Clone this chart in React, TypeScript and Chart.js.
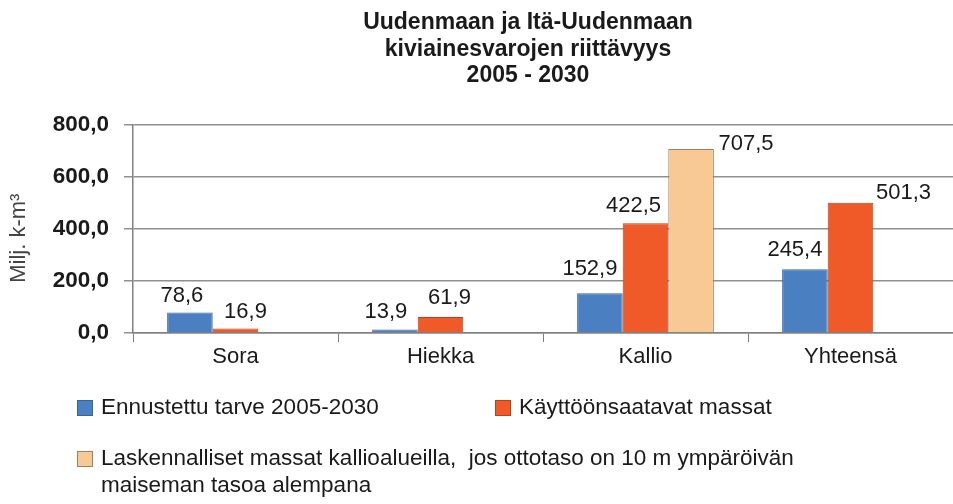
import React, { useEffect, useRef } from "react";
import { Chart, registerables } from "chart.js";

Chart.register(...registerables);

const titleLines = ["Uudenmaan ja Itä-Uudenmaan", "kiviainesvarojen riittävyys", "2005 - 2030"];
const categories = ["Sora", "Hiekka", "Kallio", "Yhteensä"];
const ennustettu = [78.6, 13.9, 152.9, 245.4];
const kayttoonsaatavat = [16.9, 61.9, 422.5, 501.3];
const laskennalliset = [null, null, 707.5, null];
const seriesLabels = [
  "Ennustettu tarve 2005-2030",
  "Käyttöönsaatavat massat",
  "Laskennalliset massat kallioalueilla,  jos ottotaso on 10 m ympäröivän maiseman tasoa alempana",
];
const yTickValues = [0, 200, 400, 600, 800];
const yAxisTitle = "Milj. k-m³   ";

// label offsets (style): [dx, dy] relative to bar top centre
const labelOffsets = [
  [[-8, 17], [-9, 17], [-10, 24], [-10, 19]],
  [[10, 17], [9, 19], [-12, 17], [53, 10]],
  [[0, 10], [0, 10], [55, 5], [0, 10]],
];

const fmt = (v: number) => v.toFixed(1).replace(".", ",");
const FONT = "'Liberation Sans', Arial, sans-serif";

const colors = ["#4a7fc1", "#ef5a28", "#f9c995"];
const borders = ["#35649e", "#b8421c", "#9c8062"];

const titlePlugin = {
  id: "customTitle",
  afterDraw(chart: any) {
    const ctx = chart.ctx;
    ctx.save();
    ctx.font = `bold 23px ${FONT}`;
    ctx.fillStyle = "#1a1a1a";
    ctx.textAlign = "center";
    ctx.textBaseline = "middle";
    titleLines.forEach((t, i) => ctx.fillText(t, 528, 23 + i * 26.5));
    ctx.restore();
  },
};

const labelPlugin = {
  id: "barLabels",
  afterDatasetsDraw(chart: any) {
    const ctx = chart.ctx;
    ctx.save();
    ctx.font = `22px ${FONT}`;
    ctx.fillStyle = "#1a1a1a";
    ctx.textAlign = "center";
    ctx.textBaseline = "middle";
    chart.data.datasets.forEach((ds: any, di: number) => {
      const meta = chart.getDatasetMeta(di);
      meta.data.forEach((bar: any, i: number) => {
        const v = ds.data[i];
        if (v === null || v === undefined) return;
        const [dx, dy] = labelOffsets[di][i];
        ctx.fillText(fmt(v), bar.x + dx, bar.y - dy);
      });
    });
    ctx.restore();
  },
};

const legendPlugin = {
  id: "customLegend",
  afterDraw(chart: any) {
    const ctx = chart.ctx;
    const H = chart.height;
    ctx.save();
    ctx.font = `22.5px ${FONT}`;
    ctx.textBaseline = "middle";
    ctx.textAlign = "left";
    const items = [
      { x: 77, y: H - 96 },
      { x: 495, y: H - 96 },
      { x: 77, y: H - 45 },
    ];
    chart.data.datasets.forEach((ds: any, i: number) => {
      const { x, y } = items[i];
      ctx.fillStyle = ds.backgroundColor;
      ctx.fillRect(x, y - 8, 16, 16);
      ctx.strokeStyle = ds.borderColor;
      ctx.lineWidth = 1;
      ctx.strokeRect(x + 0.5, y - 7.5, 15, 15);
      ctx.fillStyle = "#1a1a1a";
      const words = String(ds.label).split(" ");
      const lines: string[] = [];
      let cur = "";
      words.forEach((w) => {
        const test = cur === "" ? w : cur + " " + w;
        if (ctx.measureText(test).width > 730 && cur !== "") {
          lines.push(cur);
          cur = w;
        } else cur = test;
      });
      lines.push(cur);
      lines.forEach((l, li) => ctx.fillText(l, x + 24, y + li * 27));
    });
    ctx.restore();
  },
};

export default function App() {
  const ref = useRef<HTMLCanvasElement>(null);
  useEffect(() => {
    if (!ref.current) return;
    const chart = new Chart(ref.current, {
      type: "bar",
      data: {
        labels: categories,
        datasets: [ennustettu, kayttoonsaatavat, laskennalliset].map((d, i) => ({
          label: seriesLabels[i],
          data: d as any,
          backgroundColor: colors[i],
          borderColor: borders[i],
          borderWidth: 1,
          categoryPercentage: 0.667,
          barPercentage: 1.0,
        })),
      },
      options: {
        animation: false,
        responsive: true,
        maintainAspectRatio: false,
        layout: { padding: { top: 125, bottom: 135, left: 0, right: 0 } },
        plugins: {
          legend: { display: false },
          title: { display: false },
          tooltip: { enabled: false },
        },
        scales: {
          x: {
            grid: { drawOnChartArea: false, drawTicks: true, tickLength: 9, color: "#808080", offset: true },
            border: { display: true, color: "#808080", width: 1.5 },
            ticks: { font: { family: FONT, size: 22 }, color: "#1a1a1a", padding: 2 },
            afterFit: (s: any) => { s.height = 36; },
          },
          y: {
            min: 0,
            max: 800,
            afterBuildTicks: (s: any) => { s.ticks = yTickValues.map((v) => ({ value: v })); },
            grid: { color: "#909090", lineWidth: 1.5, tickLength: 9 },
            border: { display: true, color: "#808080", width: 1.5 },
            ticks: {
              font: { family: FONT, size: 22.5, weight: "bold" },
              color: "#1a1a1a",
              padding: 15,
              callback: (v: any) => fmt(Number(v)),
            },
            title: {
              display: true,
              text: yAxisTitle,
              font: { family: FONT, size: 22 },
              color: "#444",
              padding: { top: 6, bottom: 0 },
            },
            afterFit: (s: any) => { s.width = 133; },
          },
        },
      },
      plugins: [titlePlugin, labelPlugin, legendPlugin],
    });
    return () => chart.destroy();
  }, []);
  return (
    <div style={{ position: "absolute", left: 0, top: 0, width: 953, height: 504, background: "#fff" }}>
      <canvas ref={ref} />
    </div>
  );
}
